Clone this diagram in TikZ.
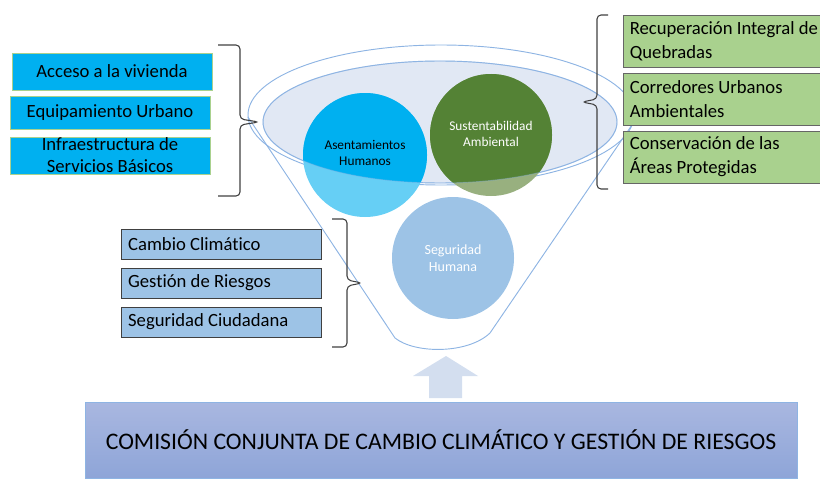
\documentclass[tikz,border=0pt]{standalone}
\usepackage{fontspec}
\setmainfont{Carlito}[Ligatures=NoCommon]
\definecolor{funnelline}{HTML}{8EB4E3}
\definecolor{ellipsefill}{HTML}{E1E8F4}
\definecolor{skyblue}{HTML}{00B0F0}
\definecolor{skylight}{HTML}{66CFF5}
\definecolor{leafgreen}{HTML}{548235}
\definecolor{leaflight}{HTML}{98B07F}
\definecolor{paleblue}{HTML}{9DC3E6}
\definecolor{palegreen}{HTML}{A9D18E}
\definecolor{arrowblue}{HTML}{D3DEEF}
\definecolor{bracegray}{HTML}{404040}
\definecolor{comtop}{HTML}{A9B7E0}
\definecolor{combottom}{HTML}{8EA5D8}
\tikzset{funnel/.style={draw=funnelline,line width=0.7pt},
         bracket/.style={draw=bracegray,line width=0.8pt,rounded corners=3pt},
         cyanbox/.style={fill=skyblue,draw=palegreen,line width=0.7pt,minimum width=150pt,
                         align=center,inner sep=0pt,font=\fontsize{14}{16.5}\selectfont},
         greenbox/.style={fill=palegreen,draw=gray!80!black,line width=0.6pt,minimum width=155pt,
                          text width=145pt,inner xsep=5pt,align=left,minimum height=39pt,
                          font=\fontsize{14}{18}\selectfont,
                          execute at begin node={\spaceskip=0pt\xspaceskip=0pt}},
         riskbox/.style={fill=paleblue,draw=bracegray,line width=0.6pt,minimum height=22.5pt,
                         text width=140pt,inner xsep=5pt,align=left,font=\fontsize{14}{17}\selectfont,
                         execute at begin node={\spaceskip=0pt\xspaceskip=0pt}},
         circtext/.style={align=center,font=\fontsize{10}{12}\selectfont}}

\begin{document}
\begin{tikzpicture}[x=0.75pt,y=-0.75pt]
    \path[use as bounding box,clip] (0,0) rectangle (820,478);

    % funnel
    \draw[funnel] (441,115) ellipse [x radius=193, y radius=70];
    \draw[funnel] (248,117) -- (395,338) .. controls (415,354) and (468,354) .. (490,333) -- (636,119);
    \fill[ellipsefill] (440,122) ellipse [x radius=177, y radius=61];
    \draw[funnel] (440,122) ellipse [x radius=177, y radius=61];

    \fill[skylight] (365,155) circle [radius=62];
    \fill[leaflight] (491,135) circle [radius=61];
    \begin{scope}
        \clip (440,122) ellipse [x radius=177, y radius=61];
        \fill[skyblue] (365,155) circle [radius=62];
        \fill[leafgreen] (491,135) circle [radius=61];
    \end{scope}
    \draw[funnel,opacity=0.4] (440,122) ellipse [x radius=177, y radius=61];

    \node[circtext] at (365,153)          (ah)  {Asentamientos\\Humanos};
    \node[circtext,text=white] at (491,134)  (sa)  {Sustentabilidad\\Ambiental};
    \node[circle,fill=paleblue,minimum size=91.5pt,inner sep=0pt,circtext,
          font=\fontsize{10.5}{12.5}\selectfont,text=white] at (453,258) (sh) {Seguridad\\Humana};

    % left boxes
    \node[cyanbox,minimum height=27.75pt] at (112,71.5)   (acc)  {Acceso a la vivienda};
    \node[cyanbox,minimum height=24.75pt] at (110,112.5)  (equ)  {Equipamiento Urbano};
    \node[cyanbox,minimum height=27.75pt] at (110,155.5)  (inf)  {Infraestructura de\\Servicios Básicos};

    % right boxes
    \node[greenbox] at (726.5,41)   (rec)  {Recuperación Integral de\\Quebradas};
    \node[greenbox] at (726.5,99)   (cor)  {Corredores Urbanos\\Ambientales};
    \node[greenbox] at (726.5,157)  (con)  {Conservación de las\\Áreas Protegidas};

    % risk boxes
    \node[riskbox] at (221.5,244)  (cc)  {Cambio Climático};
    \node[riskbox] at (221.5,283)  (gr)  {Gestión de Riesgos};
    \node[riskbox] at (221.5,322)  (sc)  {Seguridad Ciudadana};

    % brackets
    \draw[bracket] (218,45) -| (240,119) -- (259,122) -- (240,125) |- (218,196);
    \draw[bracket] (608,15) -| (597,99) -- (582,102) -- (597,105) |- (608,189);
    \draw[bracket] (332,219) -| (347,280) -- (362,283) -- (347,286) |- (332,347);

    % commission
    \node[top color=comtop,bottom color=combottom,draw=funnelline,line width=0.5pt,
          minimum width=534pt,minimum height=57pt,font=\fontsize{17.8}{19}\selectfont]
          at (441,440) (com) {COMISIÓN CONJUNTA DE CAMBIO CLIMÁTICO Y GESTIÓN DE RIESGOS};
    \fill[arrowblue] (429,398) -- (429,376) -- (413,376) -- (446,356) -- (478,376)
                     -- (462,376) -- (462,398) -- cycle;
\end{tikzpicture}
\end{document}
